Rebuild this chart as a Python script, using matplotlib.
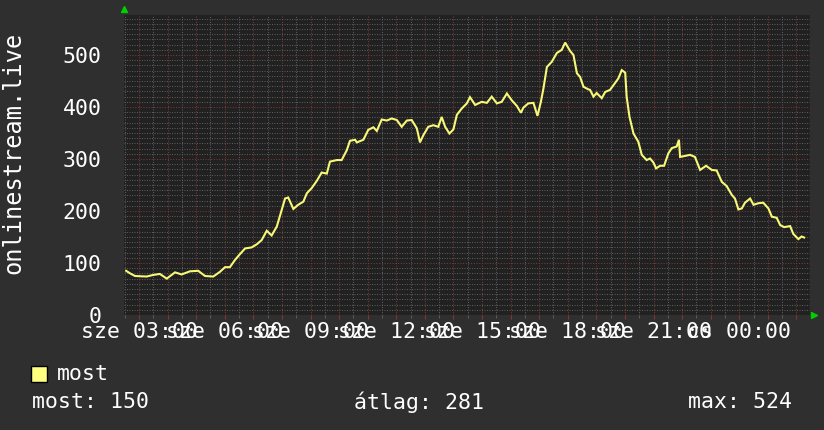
import matplotlib
matplotlib.use("Agg")
import matplotlib.pyplot as plt
from matplotlib.ticker import MultipleLocator, FixedLocator, NullFormatter

# ---- data (hours since 00:00 of "sze") ----
hours = [2.55, 2.69, 2.86, 3.27, 3.49, 3.73, 3.97, 4.26, 4.49, 4.78, 5.07, 5.31,
         5.60, 5.83, 6.01, 6.18, 6.36, 6.53, 6.71, 6.94, 7.12, 7.29, 7.47, 7.64,
         7.82, 7.99, 8.11, 8.22, 8.40, 8.57, 8.75, 8.87, 9.04, 9.22, 9.39, 9.57,
         9.68, 9.92, 10.09, 10.27, 10.38, 10.56, 10.62, 10.85, 11.02, 11.20, 11.32,
         11.49, 11.67, 11.84, 12.02, 12.19, 12.37, 12.54, 12.72, 12.83, 12.95,
         13.12, 13.30, 13.47, 13.59, 13.71, 13.86, 14.00, 14.12, 14.29, 14.47,
         14.58, 14.76, 14.99, 15.17, 15.34, 15.52, 15.69, 15.87, 16.04, 16.22,
         16.36, 16.45, 16.62, 16.80, 16.94, 17.06, 17.15, 17.27, 17.44, 17.62,
         17.79, 17.91, 18.08, 18.20, 18.32, 18.43, 18.55, 18.72, 18.78, 18.90,
         19.01, 19.19, 19.31, 19.48, 19.60, 19.77, 19.89, 20.01, 20.06, 20.16,
         20.30, 20.47, 20.59, 20.76, 20.88, 21.00, 21.09, 21.23, 21.37, 21.52,
         21.64, 21.81, 21.89, 21.93, 22.10, 22.28, 22.45, 22.63, 22.84, 23.04,
         23.21, 23.39, 23.56, 23.74, 23.85, 23.97, 24.09, 24.20, 24.38, 24.50,
         24.67, 24.84, 25.02, 25.14, 25.31, 25.43, 25.57, 25.78, 25.89, 26.07,
         26.18, 26.27]
values = [85, 80, 75, 74, 77, 79, 70, 82, 78, 84, 85, 75,
          74, 83, 92, 92, 106, 117, 128, 130, 136, 144, 162, 153,
          170, 202, 224, 226, 204, 212, 218, 234, 244, 258, 274, 272,
          295, 298, 298, 317, 335, 337, 332, 337, 356, 361, 354,
          376, 374, 378, 375, 362, 374, 375, 359, 332, 346,
          362, 365, 362, 381, 362, 349, 357, 385, 397, 407,
          419, 404, 410, 408, 420, 407, 410, 426, 413, 402,
          389, 399, 407, 408, 383, 410, 436, 477, 487, 504,
          510, 524, 508, 500, 465, 458, 439, 434, 433, 420,
          427, 417, 429, 433, 442, 455, 471, 466, 420, 381,
          349, 333, 308, 298, 301, 293, 282, 287, 287, 311,
          321, 324, 337, 304, 306, 308, 304, 279, 287, 279,
          278, 256, 248, 231, 224, 203, 205, 216, 224, 212,
          215, 216, 205, 189, 187, 173, 169, 171, 156, 146,
          151, 149]

y_ticks = [0, 100, 200, 300, 400, 500]
x_label_hours = [3, 6, 9, 12, 15, 18, 21, 24]
x_labels = ["sze 03:00", "sze 06:00", "sze 09:00", "sze 12:00",
            "sze 15:00", "sze 18:00", "sze 21:00", "cs 00:00"]
y_title = "onlinestream.live"
series_name = "most"
stat_names = ["most", "átlag", "max"]
stat_values = [150, 281, 524]

# ---- style ----
FIG_BG = "#2f2f2f"
AX_BG = "#212121"
LINE = "#f8f878"
MINOR = "#5a5a5a"
MAJOR = "#7e3838"
TXT = "#ffffff"
FONT = "DejaVu Sans Mono"
FS = 15.5

fig = plt.figure(figsize=(8.24, 4.30), dpi=100, facecolor=FIG_BG)
ax = fig.add_axes([124 / 824, 115 / 430, 686 / 824, 300 / 430])
ax.set_facecolor(AX_BG)

x_min, x_max = 2.475, 26.475
ax.set_xlim(x_min, x_max)
ax.set_ylim(0, 577)

# grid
ax.xaxis.set_major_locator(MultipleLocator(1))
ax.xaxis.set_minor_locator(MultipleLocator(0.5))
ax.yaxis.set_major_locator(FixedLocator(y_ticks))
ax.yaxis.set_minor_locator(MultipleLocator(10))
ax.grid(which="minor", color=MINOR, linestyle=(0, (1, 1.4)), linewidth=0.75)
ax.grid(which="major", color=MAJOR, linestyle=(0, (1, 1.6)), linewidth=0.75)
ax.set_axisbelow(True)

for s in ax.spines.values():
    s.set_visible(False)

ax.plot(hours, values, color=LINE, linewidth=1.5, zorder=3, solid_joinstyle="miter")

# ticks and labels
ax.xaxis.set_major_formatter(NullFormatter())
ax.xaxis.set_minor_formatter(NullFormatter())
ax.tick_params(axis="x", which="major", colors=MAJOR, length=3, width=0.8)
ax.tick_params(axis="x", which="minor", colors=MINOR, length=2, width=0.8)
ax.tick_params(axis="y", which="both", length=0)
ax.set_yticks(y_ticks)
ax.set_yticklabels([str(v) for v in y_ticks], color=TXT, fontfamily=FONT, fontsize=FS)
ax.tick_params(axis="y", pad=16)

for h, lab in zip(x_label_hours, x_labels):
    ax.text(h, -0.022, lab, transform=ax.get_xaxis_transform(), ha="center", va="top",
            color=TXT, fontfamily=FONT, fontsize=FS)

fig.text(13 / 824, 1 - 153 / 430, y_title, rotation=90, ha="center", va="center",
         color=TXT, fontfamily=FONT, fontsize=17)

# arrows
ax.plot([x_min], [1.02], transform=ax.get_xaxis_transform(), marker="^", color="#00d000",
        markersize=5, clip_on=False, zorder=5)
ax.plot([1.006], [0], transform=ax.get_yaxis_transform(), marker=">", color="#00d000",
        markersize=5, clip_on=False, zorder=5)

# legend
fig.patches.append(plt.Rectangle((31 / 824, 1 - 382 / 430), 16 / 824, 16 / 430,
                                 transform=fig.transFigure, facecolor="#ffff80",
                                 edgecolor="#000000", linewidth=1))
fig.text(57 / 824, 1 - 374 / 430, series_name, ha="left", va="center",
         color=TXT, fontfamily=FONT, fontsize=FS)

fig.text(32 / 824, 1 - 402 / 430, f"{stat_names[0]}: {stat_values[0]}", ha="left",
         va="center", color=TXT, fontfamily=FONT, fontsize=FS)
fig.text(419 / 824, 1 - 402 / 430, f"{stat_names[1]}: {stat_values[1]}", ha="center",
         va="center", color=TXT, fontfamily=FONT, fontsize=FS)
fig.text(792 / 824, 1 - 402 / 430, f"{stat_names[2]}: {stat_values[2]}", ha="right",
         va="center", color=TXT, fontfamily=FONT, fontsize=FS)

fig.savefig("out.png", dpi=100, facecolor=FIG_BG)
